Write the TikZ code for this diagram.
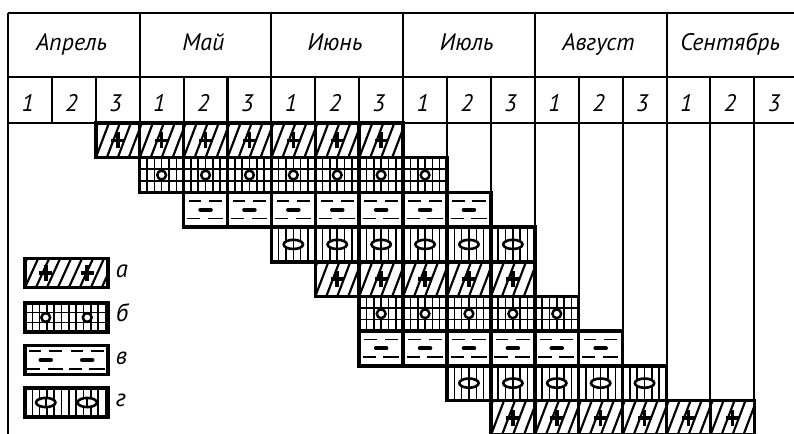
\documentclass[tikz,border=0pt]{standalone}
\usepackage{fontspec}
\setmainfont{PT Sans}
\tikzset{
  gr/.style = {draw=black, line width=1.3pt},
  bx/.style = {draw=black, line width=2.3pt},
  fin/.style = {draw=black, line width=1pt},
  hat/.style = {draw=black, line width=1.4pt},
  mes/.style = {font=\fontsize{15.5}{17}\selectfont\itshape, anchor=base},
  leg/.style = {font=\fontsize{16}{18}\selectfont\itshape, anchor=base west, inner sep=0pt}
}
% fill patterns: #1 x left, #2 x right, #3 y top, #4 y bottom
\newcommand{\patA}[4]{%
  \begin{scope}
    \clip (#1,#3) rectangle (#2,#4);
    \pgfmathtruncatemacro\nh{((#2)-(#1)+1)*4}
    \pgfmathsetmacro\hh{(#3)-(#4)}
    \foreach \i in {0,...,\nh} \draw[hat] ({#1-0.5+\i*0.25},#4) -- ++(0.3,\hh);
  \end{scope}}
\newcommand{\patB}[4]{%
  \begin{scope}
    \clip (#1,#3) rectangle (#2,#4);
    \pgfmathtruncatemacro\nv{((#2)-(#1))*6}
    \pgfmathsetmacro\hh{((#3)-(#4))/3}
    \foreach \i in {1,...,\nv} \draw[fin] ({#1+\i/6},#3) -- ({#1+\i/6},#4);
    \draw[fin] (#1,#3-\hh) -- (#2,#3-\hh) (#1,#4+\hh) -- (#2,#4+\hh);
  \end{scope}}
\newcommand{\patC}[4]{}
\newcommand{\patD}[4]{%
  \begin{scope}
    \clip (#1,#3) rectangle (#2,#4);
    \pgfmathtruncatemacro\nv{((#2)-(#1))*6}
    \foreach \i in {1,...,\nv} \draw[fin] ({#1+\i/6},#3) -- ({#1+\i/6},#4);
  \end{scope}}
% cell symbols: #1 x centre, #2 y centre
\newcommand{\symA}[2]{\draw[line width=2.3pt] (#1-0.15,#2) -- (#1+0.15,#2) (#1,#2-0.18) -- (#1,#2+0.18);}
\newcommand{\symB}[2]{\filldraw[fill=white, line width=1.6pt] (#1,#2) circle (0.1);}
\newcommand{\symC}[2]{%
  \draw[line width=2.6pt, line cap=round] (#1-0.12,#2) -- (#1+0.12,#2);
  \draw[fin] (#1-0.38,#2+0.2) -- (#1-0.1,#2+0.2) (#1+0.08,#2+0.2) -- (#1+0.38,#2+0.2)
             (#1-0.42,#2-0.2) -- (#1-0.12,#2-0.2) (#1+0.05,#2-0.2) -- (#1+0.4,#2-0.2);}
\newcommand{\symD}[2]{%
  \filldraw[fill=white, line width=1.7pt] (#1,#2) ellipse (0.22 and 0.105);
  \draw[fin] (#1,#2-0.1) -- (#1,#2+0.1);}

\begin{document}
\begin{tikzpicture}
  \useasboundingbox (-0.182,0.296) rectangle (17.904,-9.567);
  \clip (-0.182,0.296) rectangle (17.904,-9.567);
  % header
  \draw[gr] (0,0) -- (18.5,0) (0,-1.458) -- (18.5,-1.458) (0,-2.506) -- (18.5,-2.506);
  \draw[gr] (0,0) -- (0,-9.8);
  \foreach \m in {3,6,...,18} \draw[gr] (\m,0) -- (\m,-2.506);
  \foreach \k in {1,...,18} \draw[gr] (\k,-1.458) -- (\k,-2.506);
  \foreach \t [count=\i from 0] in {Апрель, Май, Июнь, Июль, Август, Сентябрь}
    \node[mes] (m\i) at ({3*\i+1.45},-0.843) {\t};
  \foreach \k in {0,...,17} {
    \pgfmathtruncatemacro\dec{mod(\k,3)+1}
    \node[mes] (d\k) at (\k+0.45,-2.255) {\dec};
  }
  % bars
  \foreach \rw/\ca/\cb/\tp in {1/2/9/A, 2/3/10/B, 3/4/11/C, 4/6/12/D, 5/7/12/A,
                               6/8/13/B, 7/8/14/C, 8/10/15/D, 9/11/17/A} {
    \pgfmathsetmacro\yt{-2.506-(\rw-1)*0.79}
    \pgfmathsetmacro\yb{\yt-0.79}
    \pgfmathsetmacro\yc{\yt-0.395}
    \foreach \k in {\ca,...,18} \draw[gr] (\k,\yt) -- (\k,\yb);
    \csname pat\tp\endcsname{\ca}{\cb}{\yt}{\yb}
    \pgfmathtruncatemacro\cl{\cb-1}
    \foreach \k in {\ca,...,\cl} \csname sym\tp\endcsname{\k+0.5}{\yc}
    \draw[bx] (\ca,\yt) rectangle (\cb,\yb);
    \foreach \k in {\ca,...,\cb} \draw[bx] (\k,\yt) -- (\k,\yb);
  }
  % legend
  \foreach \tp/\yc/\lt [count=\j] in {A/-5.923/а, B/-6.936/б, C/-7.904/в, D/-8.872/г} {
    \csname pat\tp\endcsname{0.387}{2.278}{\yc+0.33}{\yc-0.33}
    \csname sym\tp\endcsname{0.86}{\yc}
    \csname sym\tp\endcsname{1.805}{\yc}
    \draw[bx] (0.387,\yc+0.33) rectangle (2.278,\yc-0.33);
    \node[leg] (l\j) at (2.45,\yc-0.1) {\lt};
  }
\end{tikzpicture}
\end{document}
